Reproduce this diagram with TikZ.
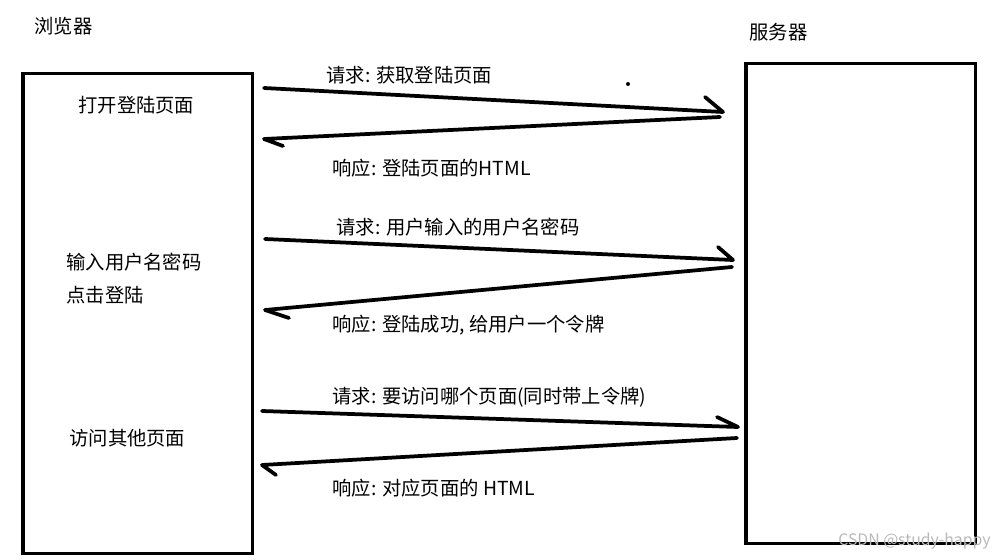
\documentclass[tikz,border=0pt]{standalone}
\usepackage{fontspec}
\setmainfont{Noto Sans CJK SC}
\tikzset{
	box/.style={draw, line width=0.07cm, inner sep=0pt, minimum width=4.6cm, minimum height=9.6cm, anchor=north west},
	stroke/.style={line width=0.075cm, line cap=round, line join=round},
	lbl/.style={anchor=west, inner sep=0pt, font=\fontsize{11pt}{13pt}\selectfont},
	mark text/.style={anchor=east, inner sep=0pt, text=gray!55, font=\fontsize{9pt}{11pt}\selectfont}
}
\begin{document}
\begin{tikzpicture}[x=0.02cm, y=-0.02cm]
	\useasboundingbox (0,0) rectangle (1006,560);
	% the two sides
	\node[box] (browser) at (21,72) {};
	\node[box] (server) at (744,62) {};
	\node[lbl] (browsertitle) at (34,26) {浏览器};
	\node[lbl] (servertitle) at (749,32) {服务器};
	\node[lbl] (step1) at (78,105) {打开登陆页面};
	\node[lbl] (step2) at (66,262) {输入用户名密码};
	\node[lbl] (step2b) at (66,295) {点击登陆};
	\node[lbl] (step3) at (69,438) {访问其他页面};
	% request / response pairs
	\coordinate (req1s) at (264,88);  \coordinate (req1e) at (723,112); \coordinate (req1b) at (705,97);
	\coordinate (res1s) at (720,117); \coordinate (res1e) at (264,139); \coordinate (res1b) at (283,146);
	\coordinate (req2s) at (265,239); \coordinate (req2e) at (733,260); \coordinate (req2b) at (718,247);
	\coordinate (res2s) at (732,267); \coordinate (res2e) at (265,310); \coordinate (res2b) at (289,318);
	\coordinate (req3s) at (262,411); \coordinate (req3e) at (738,427); \coordinate (req3b) at (717,417);
	\coordinate (res3s) at (737,438); \coordinate (res3e) at (262,465); \coordinate (res3b) at (276,475);
	\foreach \i in {1,2,3}{
		\draw[stroke] (req\i s) -- (req\i e) -- (req\i b);
		\draw[stroke] (res\i s) -- (res\i e) -- (res\i b);
	}
	\node[lbl] (req1) at (326,75) {请求: 获取登陆页面};
	\node[lbl] (res1) at (332,168) {响应: 登陆页面的HTML};
	\node[lbl] (req2) at (336,227) {请求: 用户输入的用户名密码};
	\node[lbl] (res2) at (332,325) {响应: 登陆成功, 给用户一个令牌};
	\node[lbl] (req3) at (332,397) {请求: 要访问哪个页面(同时带上令牌)};
	\node[lbl] (res3) at (332,488) {响应: 对应页面的 HTML};
	\fill (628,84) circle (2);
	\node[mark text] (watermark) at (991,541) {CSDN @study-happy};
\end{tikzpicture}
\end{document}
